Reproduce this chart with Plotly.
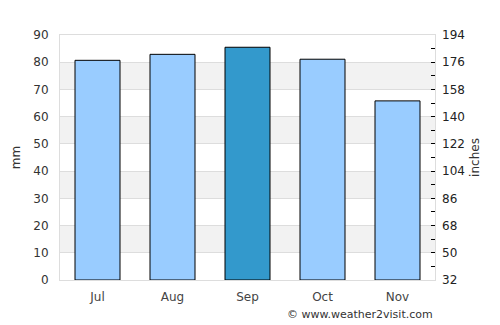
import plotly.graph_objects as go

months = ["Jul", "Aug", "Sep", "Oct", "Nov"]
rain_mm = [80.7, 82.9, 85.5, 81.1, 65.8]
bar_colors = ["#99ccff", "#99ccff", "#3399cc", "#99ccff", "#99ccff"]
left_ticks = [0, 10, 20, 30, 40, 50, 60, 70, 80, 90]
right_ticks = [32, 50, 68, 86, 104, 122, 140, 158, 176, 194]
bands = [(10, 20), (30, 40), (50, 60), (70, 80)]

fig = go.Figure()
fig.add_trace(go.Bar(
    x=months, y=rain_mm, marker=dict(color=bar_colors, line=dict(color="black", width=1)),
    width=0.6, hoverinfo="skip", showlegend=False,
))
# invisible trace for right axis
fig.add_trace(go.Scatter(x=months, y=[None]*5, yaxis="y2", showlegend=False, hoverinfo="skip"))

for lo, hi in bands:
    fig.add_shape(type="rect", xref="paper", yref="y", x0=0, x1=1, y0=lo, y1=hi,
                  fillcolor="#f2f2f2", line=dict(width=0), layer="below")

font_fam = "DejaVu Sans"
fig.update_layout(
    width=500, height=325, margin=dict(l=60, r=65, t=35, b=45),
    paper_bgcolor="white", plot_bgcolor="white",
    font=dict(family=font_fam, size=12, color="#444"),
    bargap=0.4,
    xaxis=dict(showgrid=False, showline=True, linecolor="#dddddd", linewidth=1, mirror=True,
               ticks="", ticklabelstandoff=6, tickfont=dict(size=12, color="#444")),
    yaxis=dict(range=[0, 90], tickvals=left_ticks, showgrid=True, gridcolor="#dddddd",
               zeroline=False, showline=True, linecolor="#dddddd", linewidth=1, mirror=True,
               ticks="", ticklabelstandoff=8, tickfont=dict(size=12, color="#333"),
               title=dict(text="mm", font=dict(size=12, color="#333"), standoff=10)),
    yaxis2=dict(range=[32, 194], tickvals=right_ticks, overlaying="y", side="right",
                showgrid=False, zeroline=False, ticks="inside", ticklen=4, tickcolor="black",
                ticklabelstandoff=6,
                minor=dict(dtick=9, tick0=32, ticks="inside", ticklen=4, tickcolor="black", showgrid=False),
                tickfont=dict(size=12, color="#222"),
                title=dict(text="inches", font=dict(size=12, color="#333"), standoff=6)),
    annotations=[dict(text="© www.weather2visit.com", xref="paper", yref="paper",
                      x=1, y=0, xanchor="right", yanchor="top", yshift=-26, showarrow=False,
                      font=dict(size=11, color="#333"))],
)

fig.write_html("out.html")
